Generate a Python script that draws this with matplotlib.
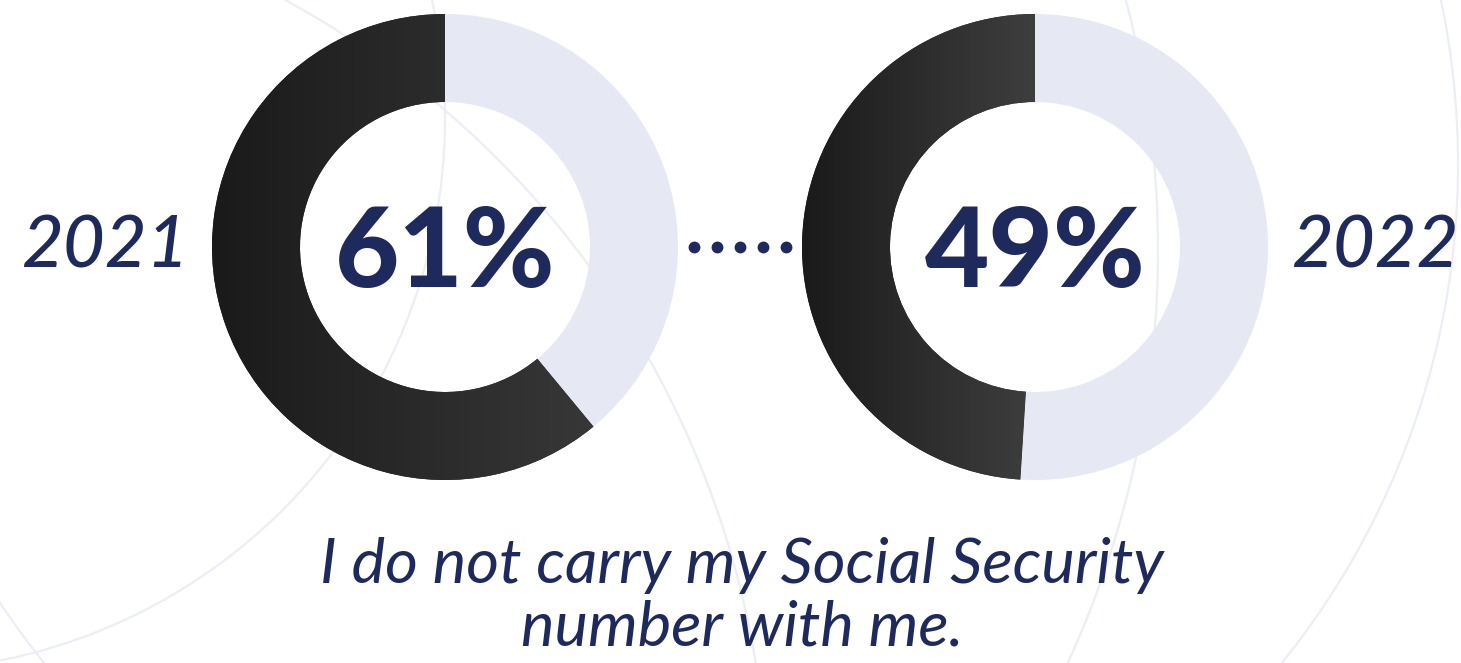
import numpy as np
import matplotlib.pyplot as plt
from matplotlib.patches import Circle
from matplotlib.colors import LinearSegmentedColormap

years = ["2021", "2022"]
share = [61, 49]
caption = ["I do not carry my Social Security", "number with me."]

navy = "#1f2a5c"
light = "#e6e9f3"
W, H = 1461, 663

fig = plt.figure(figsize=(W / 100, H / 100), dpi=100)
ax = fig.add_axes([0, 0, 1, 1])

# faint decorative circles in the background
for cx, cy, r in [(-158, 813, 926), (-107, 119, 552), (168, 250, 990), (663, 164, 795)]:
    ax.add_patch(Circle((cx, H - cy), r, fill=False, ec="#eceef6", lw=1.6, zorder=0))

grad = LinearSegmentedColormap.from_list("g", ["#1a1a1a", "#3e3e3e"])
centers = [445, 1035]
R, ring = 233, 88
cy = H - 247

for cx, val, yr, side in zip(centers, share, years, [-1, 1]):
    wedges, _ = ax.pie([val, 100 - val], colors=["#2b2b2b", light], startangle=90,
                       counterclock=True, center=(cx, cy), radius=R,
                       wedgeprops=dict(width=ring, linewidth=0))
    dark = wedges[0]
    img = ax.imshow(np.linspace(0, 1, 256).reshape(1, -1), cmap=grad, aspect="auto",
                    extent=(cx - R, cx + R * (1 if val > 50 else 0) + 1, cy - R, cy + R),
                    zorder=2)
    img.set_clip_path(dark)
    ax.text(cx, cy - 7, f"{val}%", ha="center", va="center", fontsize=80,
            fontfamily="Lato", fontweight="black", color=navy, zorder=3)
    ax.text(cx + side * 340, cy, yr, ha="center", va="center", fontsize=52,
            fontfamily="Lato", fontstyle="italic", fontweight="medium", color=navy, zorder=3)

# dotted connector between the two rings
ax.plot(np.linspace(694, 786, 5), [cy] * 5, ls="none", marker="o", ms=7.5,
        color=navy, zorder=3)

ax.text(742, H - 583, caption[0], ha="center", va="baseline", fontsize=45.5,
        fontfamily="Lato", fontstyle="italic", color=navy)
ax.text(742, H - 645, caption[1], ha="center", va="baseline", fontsize=45.5,
        fontfamily="Lato", fontstyle="italic", color=navy)

ax.set_xlim(0, W)
ax.set_ylim(0, H)
ax.set_aspect("auto")
ax.axis("off")
fig.savefig("out.png", dpi=100, facecolor="white")
